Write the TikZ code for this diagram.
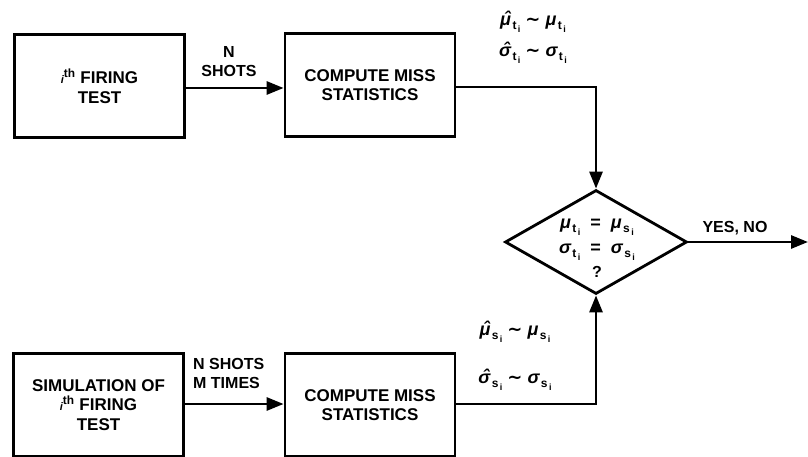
\documentclass[tikz,border=0pt]{standalone}
\usepackage{fontspec}
\setmainfont{Liberation Sans}
\newfontfamily\dvfont{DejaVu Sans}
\usetikzlibrary{arrows.meta,shapes.geometric}
\tikzset{
  blk/.style={draw, line width=2.8pt, minimum width=170pt, minimum height=103pt, align=center, inner sep=0pt, font=\bfseries\fontsize{17}{19.5}\selectfont},
  lbl/.style={inner sep=0pt, align=center},
  grk/.style={inner sep=0pt, align=center, font=\bfseries\fontsize{18}{20}\selectfont},
  conn/.style={line width=2.8pt, -{Triangle[length=17pt,width=13pt]}},
}
\newcommand{\ith}{{\fontsize{11}{11}\selectfont\itshape i}\textsuperscript{th}}
\newcommand{\gk}[3]{{\itshape #1}\kern0.08em\raisebox{-0.22em}{\fontsize{12}{12}\selectfont #2\kern0.12em\raisebox{-0.25em}{\fontsize{9}{9}\selectfont #3}}}
\newcommand{\hatg}[1]{\ooalign{#1\cr\hidewidth\kern0.15em\raisebox{0.02em}{\char"02C6}\hidewidth\cr}}
\newcommand{\tld}{\ {\dvfont\char"223C}\ }
\begin{document}
\begin{tikzpicture}[x=1pt,y=-1pt,font=\bfseries\fontsize{16}{19}\selectfont]
\useasboundingbox (0,0) rectangle (808,457);
\node[blk] (b1) at (99.5,86) {\ith{} FIRING\\TEST};
\node[blk] (b2) at (370,85) {COMPUTE MISS\\STATISTICS};
\node[blk] (b3) at (98.5,405) {SIMULATION OF\\\ith{} FIRING\\TEST};
\node[blk] (b4) at (370,405) {COMPUTE MISS\\STATISTICS};
\node[draw, line width=2.8pt, diamond, minimum width=182pt, minimum height=104pt, inner sep=0pt] (d) at (596,242) {};
\node[grk] (q1) at (597,227) {\gk{μ}{t}{i} \ = \ \gk{μ}{s}{i}};
\node[grk] (q2) at (597,252) {\gk{σ}{t}{i} \ = \ \gk{σ}{s}{i}};
\node[lbl] (q3) at (597,272) {?};
\coordinate (out) at (808,242);
\coordinate (c1) at (596,87);
\coordinate (c2) at (596,404);
\draw[conn] (b1.east |- 0,88) -- (b2.west |- 0,88);
\draw[conn] (b3.east |- 0,404) -- (b4.west |- 0,404);
\draw[conn] (b2.east |- c1) -- (c1) -- (d.north);
\draw[conn] (b4.east |- c2) -- (c2) -- (d.south);
\draw[conn] (d.east) -- (out);
\node[lbl] (l1) at (229,62) {N\\SHOTS};
\node[lbl, align=left, anchor=west] (l2) at (193,373) {N SHOTS\\M TIMES};
\node[lbl] (l3) at (735,228) {YES, NO};
\node[grk] (e1) at (533,24) {\gk{\hatg{μ}}{t}{i}\tld\gk{μ}{t}{i}};
\node[grk] (e2) at (533,55) {\gk{\hatg{σ}}{t}{i}\tld\gk{σ}{t}{i}};
\node[grk] (e3) at (515,334) {\gk{\hatg{μ}}{s}{i}\tld\gk{μ}{s}{i}};
\node[grk] (e4) at (515,382) {\gk{\hatg{σ}}{s}{i}\tld\gk{σ}{s}{i}};
\end{tikzpicture}
\end{document}
